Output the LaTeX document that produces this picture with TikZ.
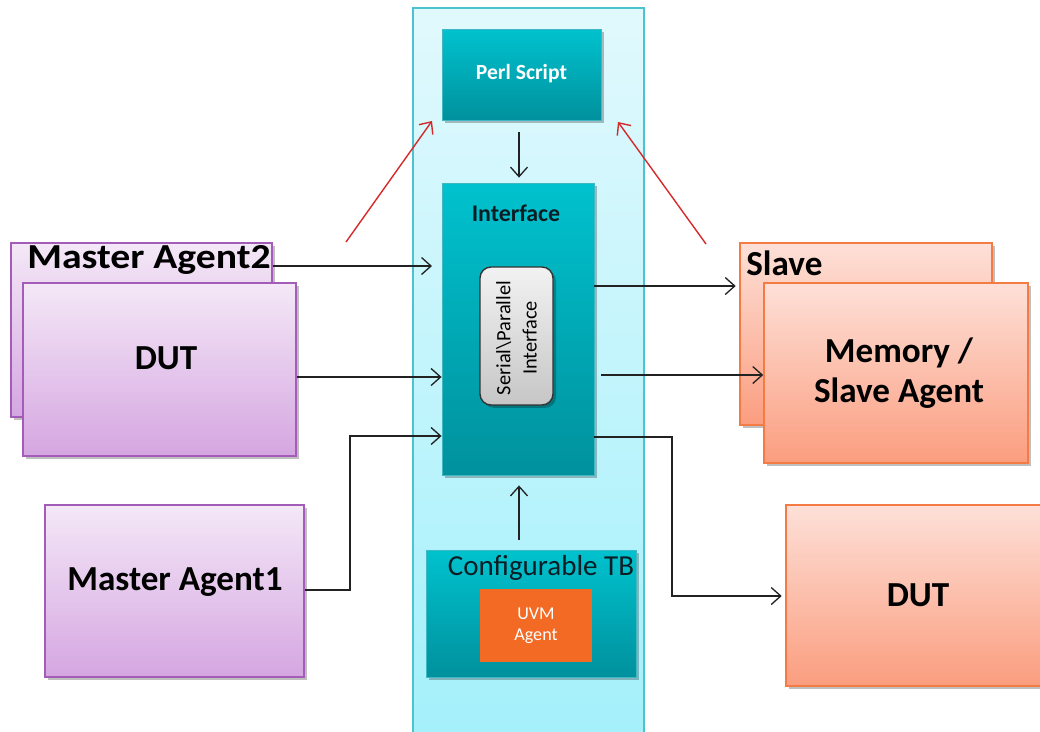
\documentclass[tikz,border=0pt]{standalone}
\usepackage{fontspec}
\usepackage{graphicx}
\setmainfont{Carlito}
\usetikzlibrary{arrows.meta,shadows,calc}
\definecolor{colTop}{HTML}{E1F9FD}
\definecolor{colBot}{HTML}{A3F0FB}
\definecolor{colEdge}{HTML}{4CC4D0}
\definecolor{tealTop}{HTML}{00C2CE}
\definecolor{tealBot}{HTML}{00919D}
\definecolor{tealEdge}{HTML}{3FB8C4}
\definecolor{purTop}{HTML}{F4E8F7}
\definecolor{purBot}{HTML}{D5A6E1}
\definecolor{purEdge}{HTML}{A35CB7}
\definecolor{salTop}{HTML}{FDE0D8}
\definecolor{salBot}{HTML}{FB9D7F}
\definecolor{salEdge}{HTML}{F47B43}
\definecolor{greyTop}{HTML}{F2F2F2}
\definecolor{greyBot}{HTML}{C6C6C6}
\definecolor{uvmOr}{HTML}{F26A24}
\definecolor{redArr}{HTML}{D42A2A}
\definecolor{darkTxt}{HTML}{0B1E26}
\definecolor{lineCol}{HTML}{222222}
\tikzset{
  box/.style={rectangle, inner sep=0pt, line width=0.9pt},
  shad/.style={drop shadow={shadow xshift=0.6mm, shadow yshift=-0.6mm, opacity=0.25, fill=black}},
  colbox/.style={box, draw=colEdge, top color=colTop, bottom color=colBot, line width=1pt},
  tealbox/.style={box, draw=tealEdge, line width=0.5pt, top color=tealTop, bottom color=tealBot, shad},
  purbox/.style={box, draw=purEdge, top color=purTop, bottom color=purBot, shad},
  salbox/.style={box, draw=salEdge, top color=salTop, bottom color=salBot, shad},
  greybox/.style={box, draw=black!80, line width=0.8pt, rounded corners=0.22cm, top color=greyTop, bottom color=greyBot, shad},
  uvmbox/.style={box, fill=uvmOr},
  bigtxt/.style={inner sep=0pt, font=\fontsize{20}{23}\selectfont\bfseries, text=black, align=center},
  arr/.style={draw=lineCol, line width=0.75pt, -{Straight Barb[length=1.9mm,width=3.4mm]}},
  redarr/.style={draw=redArr, line width=0.8pt, -{Straight Barb[length=1.9mm,width=3.4mm]}},
}
\begin{document}
\begin{tikzpicture}[x=0.02cm,y=-0.02cm]
\useasboundingbox (0,0) rectangle (1040,731);
% central column
\node[colbox, minimum width=4.62cm, minimum height=14.7cm, anchor=north] (col) at (528.5,7) {};
% perl script
\node[tealbox, minimum width=3.18cm, minimum height=1.82cm] (perl) at (521.5,74.5) {};
\node[inner sep=0pt, text=white, font=\fontsize{12.3}{14}\selectfont\bfseries] (perlt) at (521.5,74) {Perl Script};
% interface
\node[tealbox, minimum width=3.04cm, minimum height=5.84cm] (iface) at (518,329) {};
\node[inner sep=0pt, text=darkTxt, font=\fontsize{13.6}{15}\selectfont\bfseries] (ifacet) at (516,213) {Interface};
\node[greybox, minimum width=1.46cm, minimum height=2.76cm] (sp) at (516.5,336) {};
\node[inner sep=0pt, rotate=90, align=center, text=black, font=\fontsize{11.6}{15}\selectfont] (spt) at (516.5,338) {Serial\textbackslash Parallel\\Interface};
% configurable TB
\node[tealbox, minimum width=4.2cm, minimum height=2.54cm] (ctb) at (531,613.5) {};
\node[inner sep=0pt, text=darkTxt, font=\fontsize{16.5}{18}\selectfont] (ctbt) at (541,568) {Configurable TB};
\node[uvmbox, minimum width=2.24cm, minimum height=1.46cm] (uvm) at (536,625.5) {};
\node[inner sep=0pt, text=white, align=center, font=\fontsize{10.3}{12}\selectfont] (uvmt) at (536,626) {UVM\\Agent};
% left side
\node[purbox, minimum width=5.22cm, minimum height=3.48cm] (ma2) at (141.5,330) {};
\node[bigtxt, anchor=base west] (ma2t) at (27,268) {\scalebox{1.13}[1]{Master Agent2}};
\node[purbox, minimum width=5.46cm, minimum height=3.46cm] (dutl) at (159.5,369.5) {};
\node[bigtxt] (dutlt) at (166,358) {DUT};
\node[purbox, minimum width=5.18cm, minimum height=3.44cm] (ma1) at (174.5,591) {};
\node[bigtxt] (ma1t) at (175,582) {Master Agent1};
% right side
\node[salbox, minimum width=5.04cm, minimum height=3.64cm] (slv) at (866,334) {};
\node[bigtxt, anchor=base west] (slvt) at (746,275) {Slave};
\node[salbox, minimum width=5.28cm, minimum height=3.6cm] (mem) at (896,373) {};
\node[bigtxt] (memt) at (899,373) {Memory /\\Slave Agent};
\node[salbox, minimum width=5.1cm, minimum height=3.62cm] (dutr) at (913.5,595.5) {};
\node[bigtxt] (dutrt) at (918,595) {DUT};
% free ends
\coordinate (a1) at (432,266);
\coordinate (y377) at (0,377);
\coordinate (y436) at (0,436);
\coordinate (y286) at (0,286);
\coordinate (y375) at (0,375);
\coordinate (y437) at (0,437);
\coordinate (y596) at (0,596);
\coordinate (r1s) at (346,242);
\coordinate (r1e) at (432,121);
\coordinate (r2s) at (706,244);
\coordinate (r2e) at (618,122);
\coordinate (bendA) at (350,436);
\coordinate (bendB) at (672,437);
\coordinate (bendC) at (672,596);
% connectors
\draw[arr] (ma2.east |- a1) -- (a1);
\draw[arr] (dutl.east |- y377) -- (iface.west |- y377);
\draw[arr] (ma1.east |- 0,590) -| (bendA) -- (iface.west |- y436);
\draw[arr, shorten >=2pt] (iface.east |- y286) -- (slv.west |- y286);
\draw[arr] ($(iface.east |- y375)+(7,0)$) -- (mem.west |- y375);
\draw[arr, shorten >=2pt] (iface.east |- y437) -- (bendB) -- (bendC) -- (dutr.west |- y596);
\draw[arr] ($(perl.south)+(-2.5,12)$) -- ($(iface.north)+(1,-5)$);
\draw[arr] ($(ctb.north)+(-12,-10)$) -- ($(iface.south)+(1,10)$);
\draw[redarr] (r1s) -- (r1e);
\draw[redarr] (r2s) -- (r2e);
\end{tikzpicture}
\end{document}
